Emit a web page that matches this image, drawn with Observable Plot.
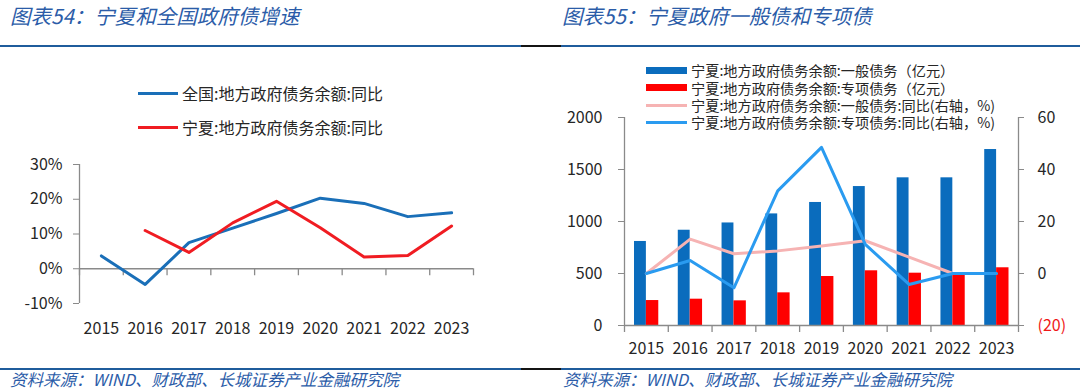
<!DOCTYPE html>
<html><head><meta charset="utf-8">
<script src="https://cdn.jsdelivr.net/npm/d3@7"></script>
<script src="https://cdn.jsdelivr.net/npm/@observablehq/plot@0.6"></script>
<style>
body{margin:0;background:#fff;font-family:"Noto Sans CJK SC","Noto Sans",sans-serif;}
#root{position:relative;width:1080px;height:389px;overflow:hidden;background:#fff;}
.title{position:absolute;font-size:20.5px;font-style:italic;color:#2b5ca8;line-height:24px;white-space:nowrap;}
.foot{position:absolute;font-size:16.5px;font-style:italic;color:#2b5ca8;line-height:18px;white-space:nowrap;}
.hl{position:absolute;height:2px;}
.leg{position:absolute;color:#262626;white-space:nowrap;display:flex;align-items:center;}
.leg span.sw{display:inline-block;margin-right:4px;flex:none;}
svg{position:absolute;overflow:visible;}
</style></head>
<body><div id="root"></div>
<script>
// ---------- data ----------
const years = [2015, 2016, 2017, 2018, 2019, 2020, 2021, 2022, 2023];
// 图表54
const nationalYoY = [3.7, -4.5, 7.5, 11.7, 15.9, 20.3, 18.8, 15.0, 16.1];
const ningxiaYoY = [null, 11.0, 4.7, 13.2, 19.4, 11.8, 3.4, 3.8, 12.3];
const leftYTicks = [-10, 0, 10, 20, 30];
const leftSeriesNames = ["全国:地方政府债务余额:同比", "宁夏:地方政府债务余额:同比"];
// 图表55
const generalDebt = [808, 916, 986, 1073, 1183, 1336, 1420, 1420, 1692];
const specialDebt = [240, 253, 237, 314, 471, 526, 503, 488, 555];
const generalYoY = [0, 13.2, 7.6, 8.7, 10.6, 12.6, 6.3, 0, null];
const specialYoY = [0, 5.0, -5.5, 31.8, 48.5, 11.2, -4.2, 0, 0];
const rightLeftTicks = [0, 500, 1000, 1500, 2000];
const rightRightTicks = [-20, 0, 20, 40, 60];
const rightSeriesNames = [
  "宁夏:地方政府债务余额:一般债务（亿元）",
  "宁夏:地方政府债务余额:专项债务（亿元）",
  "宁夏:地方政府债务余额:一般债务:同比(右轴，%)",
  "宁夏:地方政府债务余额:专项债务:同比(右轴，%)"
];
const titles = ["图表54：宁夏和全国政府债增速", "图表55：宁夏政府一般债和专项债"];
const source = "资料来源：WIND、财政部、长城证券产业金融研究院";

// ---------- styles ----------
const axisColor = "#8a8a8a";
const textColor = "#262626";
const font = "'Noto Sans CJK SC','Noto Sans',sans-serif";
const cBlueL = "#1a6fb8", cRedL = "#f01c22";
const cBar1 = "#0a6cbd", cBar2 = "#ff0000", cPink = "#f6b3b3", cSky = "#2a9bf0";

const root = document.getElementById("root");
function div(cls, css, html) {
  const d = document.createElement("div");
  if (cls) d.className = cls;
  Object.assign(d.style, css);
  if (html != null) d.textContent = html;
  root.appendChild(d);
  return d;
}
function hrule(top) {
  div("hl", {left: "0px", top: top + "px", width: "521px", background: "#1f5c9c"});
  div("hl", {left: "521px", top: top + "px", width: "40px", background: "#141414"});
  div("hl", {left: "561px", top: top + "px", width: "519px", background: "#1f5c9c"});
}
hrule(45);
hrule(368);
div("title", {left: "10px", top: "3px"}, titles[0]);
div("title", {left: "562px", top: "3px"}, titles[1]);
div("foot", {left: "10px", top: "370px"}, source);
div("foot", {left: "563px", top: "370px"}, source);

// ---------- left chart ----------
const tblL = years.map((y, i) => ({year: y, national: nationalYoY[i], ningxia: ningxiaYoY[i]}));
const boundsL = d3.range(years.length + 1).map(i => years[0] - 0.5 + i);
const chartL = Plot.plot({
  width: 540, height: 295,
  marginLeft: 79, marginRight: 67, marginTop: 114, marginBottom: 42,
  x: {domain: [boundsL[0], boundsL[boundsL.length - 1]]},
  y: {domain: [leftYTicks[0], leftYTicks[leftYTicks.length - 1]]},
  style: {fontFamily: font, fontSize: "16px", color: textColor, background: "transparent"},
  marks: [
    Plot.ruleY([0], {stroke: axisColor, strokeWidth: 1.3}),
    Plot.ruleX([boundsL[0]], {y1: leftYTicks[0], y2: leftYTicks[leftYTicks.length - 1], stroke: axisColor, strokeWidth: 1.3}),
    Plot.ruleX(boundsL, {x: d => d, y1: 0, y2: 0, insetBottom: -7, stroke: axisColor, strokeWidth: 1.3}),
    Plot.axisY(leftYTicks, {tickSize: 6, tickPadding: 11, tickFormat: d => d + "%", stroke: axisColor, fill: textColor, label: null}),
    Plot.axisX(years, {tickSize: 0, tickPadding: 19, tickFormat: d => String(d), fill: textColor, label: null}),
    Plot.lineY(tblL, {x: "year", y: "national", stroke: cBlueL, strokeWidth: 3}),
    Plot.lineY(tblL, {x: "year", y: "ningxia", stroke: cRedL, strokeWidth: 3})
  ]
});
chartL.style.left = "0px"; chartL.style.top = "50px";
root.appendChild(chartL);

// left legend
[[cBlueL, 93], [cRedL, 127]].forEach(([c, cy], i) => {
  const l = div("leg", {left: "138px", top: (cy - 11) + "px", height: "22px", fontSize: "16px"});
  const s = document.createElement("span"); s.className = "sw";
  Object.assign(s.style, {width: "40px", height: "3px", background: c});
  l.appendChild(s);
  l.appendChild(document.createTextNode(leftSeriesNames[i]));
});

// ---------- right chart ----------
const toLeft = d3.scaleLinear().domain([rightRightTicks[0], rightRightTicks[rightRightTicks.length - 1]])
  .range([rightLeftTicks[0], rightLeftTicks[rightLeftTicks.length - 1]]);
const tblR = years.map((y, i) => ({
  year: y, general: generalDebt[i], special: specialDebt[i],
  gy: generalYoY[i] == null ? NaN : toLeft(generalYoY[i]),
  sy: specialYoY[i] == null ? NaN : toLeft(specialYoY[i])
}));
const boundsR = boundsL;
const chartR = Plot.plot({
  width: 540, height: 310,
  marginLeft: 84, marginRight: 62, marginTop: 67, marginBottom: 35,
  x: {domain: [boundsR[0], boundsR[boundsR.length - 1]]},
  y: {domain: [rightLeftTicks[0], rightLeftTicks[rightLeftTicks.length - 1]]},
  style: {fontFamily: font, fontSize: "16px", color: textColor, background: "transparent"},
  marks: [
    Plot.rectY(tblR, {x1: d => d.year - 0.5, x2: d => d.year + 0.5, y: "general", fill: cBar1, insetLeft: 10, insetRight: 21.9}),
    Plot.rectY(tblR, {x1: d => d.year - 0.5, x2: d => d.year + 0.5, y: "special", fill: cBar2, insetLeft: 21.9, insetRight: 9.5}),
    Plot.ruleY([0], {stroke: axisColor, strokeWidth: 1.3}),
    Plot.ruleX([boundsR[0], boundsR[boundsR.length - 1]], {y1: rightLeftTicks[0], y2: rightLeftTicks[rightLeftTicks.length - 1], stroke: axisColor, strokeWidth: 1.3}),
    Plot.ruleX(boundsR, {x: d => d, y1: 0, y2: 0, insetBottom: -7, stroke: axisColor, strokeWidth: 1.3}),
    Plot.axisY(rightLeftTicks, {anchor: "left", tickSize: 6, tickPadding: 16, tickFormat: d => String(d), stroke: axisColor, fill: textColor, label: null}),
    Plot.axisY(rightRightTicks.filter(v => v >= 0).map(toLeft), {anchor: "right", tickSize: 5, tickPadding: 14,
      tickFormat: v => String(Math.round(toLeft.invert(v))), stroke: axisColor, fill: textColor, label: null}),
    Plot.axisY(rightRightTicks.filter(v => v < 0).map(toLeft), {anchor: "right", tickSize: 5, tickPadding: 14,
      tickFormat: v => "(" + Math.abs(Math.round(toLeft.invert(v))) + ")", stroke: axisColor, fill: "#f01818", label: null}),
    Plot.axisX(years, {tickSize: 0, tickPadding: 17, tickFormat: d => String(d), fill: textColor, label: null}),
    Plot.lineY(tblR, {x: "year", y: "gy", stroke: cPink, strokeWidth: 3}),
    Plot.lineY(tblR, {x: "year", y: "sy", stroke: cSky, strokeWidth: 3})
  ]
});
chartR.style.left = "540px"; chartR.style.top = "50px";
root.appendChild(chartR);

// right legend
[[cBar1, 7, 70], [cBar2, 7, 87.5], [cPink, 3, 105], [cSky, 3, 122]].forEach(([c, h, cy], i) => {
  const l = div("leg", {left: "646px", top: (cy - 8) + "px", height: "16px", lineHeight: "16px", fontSize: "14.2px"});
  const s = document.createElement("span"); s.className = "sw";
  Object.assign(s.style, {width: "41px", height: h + "px", background: c});
  l.appendChild(s);
  l.appendChild(document.createTextNode(rightSeriesNames[i]));
});
</script>
</body></html>
